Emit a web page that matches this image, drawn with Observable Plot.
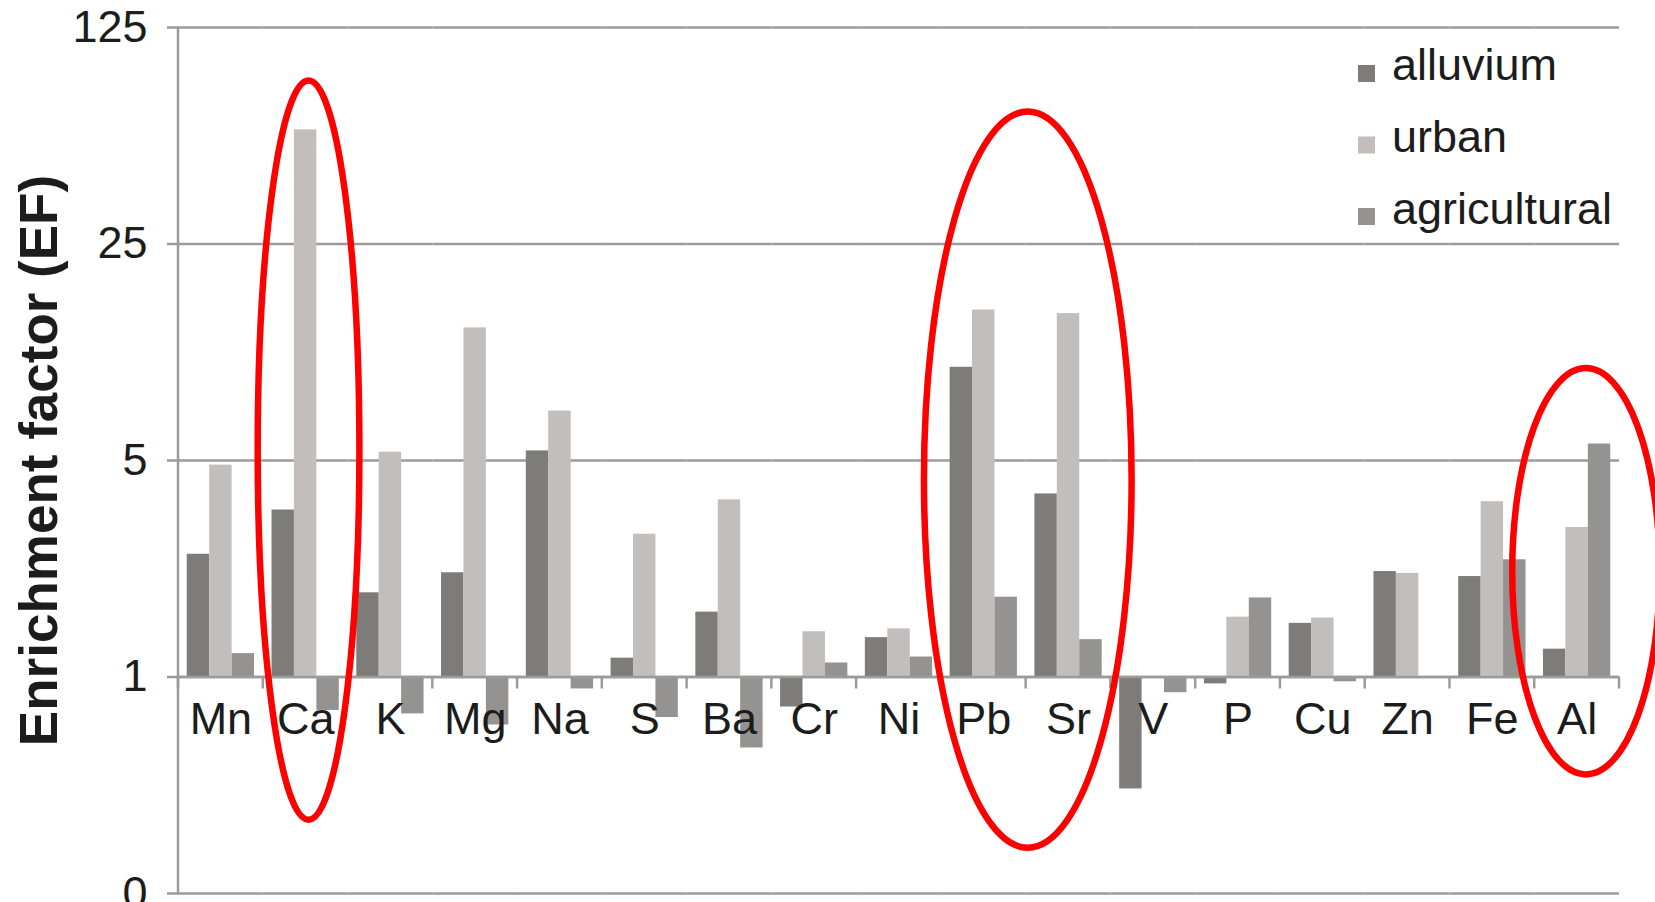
<!DOCTYPE html>
<html>
<head>
<meta charset="utf-8">
<script src="https://cdn.jsdelivr.net/npm/d3@7"></script>
<script src="https://cdn.jsdelivr.net/npm/@observablehq/plot@0.6"></script>
<style>
  html, body { margin: 0; padding: 0; background: #fff; overflow: hidden; }
  #chart { width: 1655px; height: 902px; }
</style>
</head>
<body>
<div id="chart"></div>
<script>
// ---------- data ----------
const elements = ["Mn","Ca","K","Mg","Na","S","Ba","Cr","Ni","Pb","Sr","V","P","Cu","Zn","Fe","Al"];
const seriesNames = ["alluvium","urban","agricultural"];
const alluvium     = [2.49, 3.46, 1.87, 2.17, 5.37, 1.15, 1.62, 0.80, 1.34, 10.0, 3.90, 0.435, 0.95, 1.49, 2.19, 2.11, 1.23];
const urban        = [4.83, 58.4, 5.32, 13.4, 7.22, 2.89, 3.73, 1.40, 1.43, 15.3, 14.9, 1.00, 1.56, 1.55, 2.16, 3.68, 3.04];
const agricultural = [1.19, 0.78, 0.76, 0.70, 0.915, 0.74, 0.59, 1.11, 1.16, 1.81, 1.32, 0.89, 1.80, 0.965, 1.00, 2.39, 5.65];
const yTicks = [0.2, 1, 5, 25, 125];
const yTickLabels = ["0", "1", "5", "25", "125"];
const yTitle = "Enrichment factor (EF)";
// highlighted groups (red ellipses): category span and value extent
const highlightFrom   = ["Ca", "Pb", "Al"];
const highlightTo     = ["Ca", "Sr", "Al"];
const highlightTop    = [84, 66.7, 9.9];
const highlightBottom = [0.345, 0.28, 0.483];

// ---------- styles ----------
const seriesColors = ["#7e7c78", "#c1bebb", "#959391"];
const GRID = "#9b9b9b";
const TEXT = "#1c1c1c";
const FONT = "'Liberation Sans', Arial, Helvetica, sans-serif";
const FS = 45;
const ellipsePad = [[0.06, 0.14], [0.2, 0.25], [0.26, 0.48]]; // in band widths

const series = [alluvium, urban, agricultural];
const rows = elements.flatMap((el, i) => seriesNames.map((s, j) => ({element: el, series: s, value: series[j][i]})));
const tickLabel = new Map(yTicks.map((t, i) => [t, yTickLabels[i]]));

const plot = Plot.plot({
  width: 1655,
  height: 902,
  marginTop: 27,
  marginRight: 36,
  marginBottom: 9,
  marginLeft: 178,
  style: {fontFamily: FONT, background: "#fff", color: TEXT},
  fx: {domain: elements, paddingInner: 0, paddingOuter: 0, round: false, axis: null, label: null},
  x: {domain: seriesNames, paddingInner: 0, paddingOuter: 0.39, round: false, axis: null},
  y: {type: "log", base: 5, domain: [0.2, 125], axis: null},
  color: {domain: seriesNames, range: seriesColors},
  marks: [
    Plot.ruleY(yTicks, {stroke: GRID, strokeWidth: 2.5}),
    Plot.axisY({ticks: yTicks, tickFormat: d => tickLabel.get(d), tickSize: 11, tickPadding: 20,
                stroke: GRID, strokeWidth: 2.5, fill: TEXT, fontSize: FS, label: null}),
    Plot.barY(rows, {fx: "element", x: "series", y1: 1, y2: "value", fill: "series", inset: 0}),
    Plot.ruleY([1], {stroke: GRID, strokeWidth: 2.5}),
    Plot.text(elements, {fx: d => d, y: () => 1, text: d => d, lineAnchor: "top", dy: 25,
                         fontSize: FS, fill: TEXT}),
    Plot.text([yTitle], {fx: () => elements[0], frameAnchor: "left", rotate: -90, textAnchor: "middle",
                         lineAnchor: "bottom", dx: -122, fontSize: 53, fontWeight: "bold", fill: TEXT})
  ]
});

document.getElementById("chart").appendChild(plot);

// ---------- extra decorations drawn with the plot's own scales ----------
const svg = d3.select(plot);
const fx = plot.scale("fx");
const y = plot.scale("y");
const bw = fx.bandwidth;
const X0 = fx.range[0];
const X1 = fx.range[1];
const layer = svg.append("g");

// vertical value axis line
layer.append("line")
  .attr("x1", X0).attr("x2", X0)
  .attr("y1", y.apply(d3.max(yTicks))).attr("y2", y.apply(d3.min(yTicks)))
  .attr("stroke", GRID).attr("stroke-width", 2.5);

// category boundary ticks below the 1-line
const bounds = elements.map(e => fx.apply(e)).concat([fx.apply(elements[elements.length - 1]) + bw]);
layer.selectAll(null).data(bounds).join("line")
  .attr("x1", d => d).attr("x2", d => d)
  .attr("y1", y.apply(1)).attr("y2", y.apply(1) + 12)
  .attr("stroke", GRID).attr("stroke-width", 2.5);

// legend (inside plot, top right)
const legend = svg.append("g")
  .attr("transform", `translate(${X1 - 261},${y.apply(d3.max(yTicks))})`)
  .attr("font-family", FONT).attr("font-size", FS).attr("fill", TEXT)
  .attr("text-anchor", "start");
seriesNames.forEach((s, i) => {
  legend.append("rect").attr("x", 0).attr("y", 38 + i * 71.5).attr("width", 17).attr("height", 17)
    .attr("fill", seriesColors[i]);
  legend.append("text").attr("x", 34).attr("y", 53 + i * 72).attr("text-anchor", "start").text(s);
});

// red highlight ellipses
highlightFrom.forEach((from, k) => {
  const [pl, pr] = ellipsePad[k];
  const left = fx.apply(from) - pl * bw;
  const right = fx.apply(highlightTo[k]) + bw + pr * bw;
  const top = y.apply(highlightTop[k]);
  const bottom = y.apply(highlightBottom[k]);
  layer.append("ellipse")
    .attr("cx", (left + right) / 2).attr("cy", (top + bottom) / 2)
    .attr("rx", (right - left) / 2).attr("ry", (bottom - top) / 2)
    .attr("fill", "none").attr("stroke", "#ff0000").attr("stroke-width", 6.5);
});
</script>
</body>
</html>
